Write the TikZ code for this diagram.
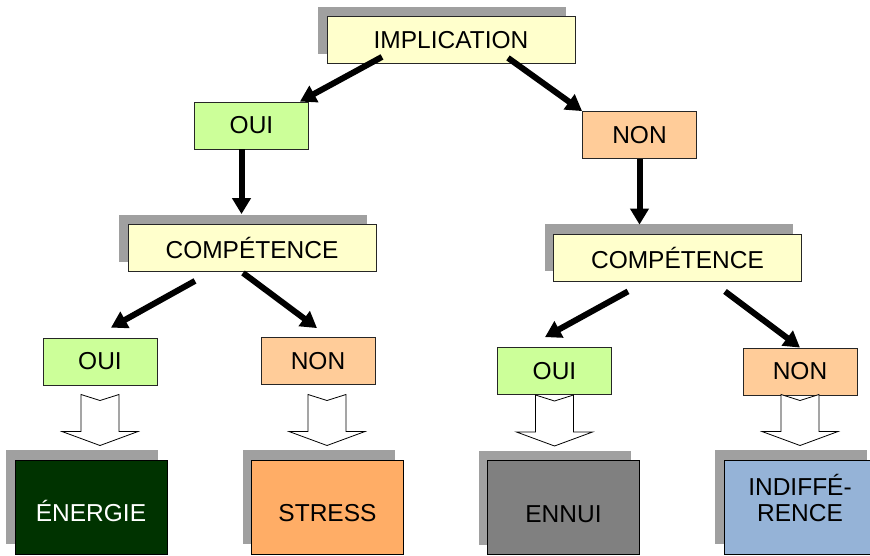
\documentclass[tikz,border=0pt]{standalone}
\usepackage{fontspec}
\setmainfont{Liberation Sans}
\usetikzlibrary{arrows.meta,calc,shadows}

\definecolor{qyellow}{HTML}{FFFFCC}
\definecolor{yesgreen}{HTML}{CCFF99}
\definecolor{noorange}{HTML}{FFCC99}
\definecolor{energiegreen}{HTML}{003300}
\definecolor{stressorange}{HTML}{FFAD66}
\definecolor{ennuigray}{HTML}{808080}
\definecolor{indiffblue}{HTML}{95B3D7}
\definecolor{shadowgray}{HTML}{A0A0A0}

\begin{document}
\begin{tikzpicture}[
  x=1pt,y=-1pt,
  base/.style={draw=black!85,line width=0.8pt,inner sep=0pt,align=center,font=\fontsize{24.5}{25}\selectfont},
  shadowed/.style={drop shadow={shadow xshift=-9pt,shadow yshift=10pt,fill=shadowgray,opacity=1}},
  question/.style={base,shadowed,fill=qyellow,minimum width=248pt,minimum height=47pt},
  yesbox/.style={base,fill=yesgreen,minimum width=114pt,minimum height=47pt},
  nobox/.style={base,fill=noorange,minimum width=114pt,minimum height=47pt},
  result/.style={base,shadowed,draw=black,line width=1pt,minimum width=152pt,minimum height=94pt,text height=29.5pt,text depth=0pt},
  link/.style={-{Triangle[length=16pt,width=18pt]},line width=6pt},
  blockarrow/.pic={
    \draw[fill=white,line width=0.8pt] (-19,-51) -- (0,-45) -- (19,-51) -- (19,-14)
      -- (38,-14) -- (0,0) -- (-38,-14) -- (-19,-14) -- cycle;
  }
]
  \useasboundingbox (0,0) rectangle (870,555);

  % first question
  \node[question] (impl) at (451,40) {IMPLICATION};
  \node[yesbox] (oui1) at (251.5,125.5) {OUI};
  \node[nobox] (non1) at (639.5,135) {NON};

  % second question
  \node[question] (compL) at (252,248) {COMPÉTENCE};
  \node[question] (compR) at (677.5,257.5) {COMPÉTENCE};
  \node[yesbox] (ouiL) at (100,361.5) {OUI};
  \node[nobox] (nonL) at (318,361) {NON};
  \node[yesbox] (ouiR) at (554.5,371) {OUI};
  \node[nobox] (nonR) at (800,371.5) {NON};

  % results
  \node[result,fill=energiegreen,text=white] (energie) at (91,507) {ÉNERGIE};
  \node[result,fill=stressorange] (stress) at (327.5,507) {STRESS};
  \node[result,fill=ennuigray] (ennui) at (563.5,507.5) {ENNUI};
  \node[result,fill=indiffblue,text depth=1pt] (indiff) at (800,507) {INDIFFÉ-\\[1pt]RENCE};

  % arrows
  \draw[link] ($(impl.south)+(-69,-7)$) -- ($(oui1.north east)+(-9,0)$);
  \draw[link] ($(impl.south)+(57,-6)$) -- (non1.north west);
  \draw[link] ($(oui1.south)+(-10,0)$) -- ($(oui1.south |- compL.north)+(-10,-10)$);
  \draw[link] (non1.south) -- ($(non1.south |- compR.north)+(0,-9)$);
  \draw[link] ($(compL.south)+(-57,9)$) -- ($(ouiL.north)+(11,-10)$);
  \draw[link] ($(compL.south)+(-9,1)$) -- ($(nonL.north)+(-1,-9)$);
  \draw[link] ($(compR.south)+(-49.5,10)$) -- ($(ouiR.north)+(-9.5,-10)$);
  \draw[link] ($(compR.south)+(47.5,10)$) -- (nonR.north);

  \pic at ($(ouiL.south |- energie.north)+(0,-14)$) {blockarrow};
  \pic at ($(nonL.south |- stress.north)+(9,-14)$) {blockarrow};
  \pic at ($(ouiR.south |- ennui.north)+(0,-14)$) {blockarrow};
  \pic at ($(nonR.south |- indiff.north)+(0,-14)$) {blockarrow};
\end{tikzpicture}
\end{document}
